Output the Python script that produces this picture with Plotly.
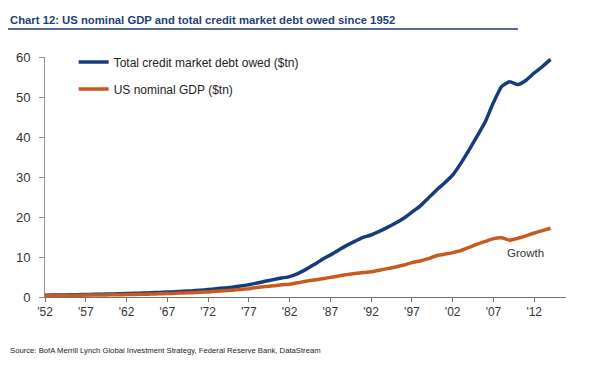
import plotly.graph_objects as go

years = list(range(1952, 2015))
credit = [0.45, 0.48, 0.51, 0.55, 0.59, 0.62, 0.66, 0.71, 0.75, 0.80,
          0.86, 0.92, 0.99, 1.07, 1.15, 1.23, 1.33, 1.43, 1.53, 1.68,
          1.86, 2.06, 2.26, 2.46, 2.74, 3.08, 3.48, 3.92, 4.35, 4.75,
          5.10, 5.85, 6.90, 8.10, 9.40, 10.50, 11.70, 12.90, 13.90, 14.90,
          15.50, 16.40, 17.40, 18.50, 19.70, 21.20, 22.70, 24.70, 26.70, 28.50,
          30.50, 33.40, 36.70, 40.20, 43.80, 48.60, 52.60, 53.80, 53.10, 54.20,
          56.00, 57.60, 59.40]
gdp = [0.36, 0.38, 0.38, 0.42, 0.44, 0.47, 0.48, 0.51, 0.54, 0.56,
       0.60, 0.64, 0.69, 0.74, 0.81, 0.86, 0.94, 1.02, 1.07, 1.17,
       1.28, 1.43, 1.55, 1.69, 1.88, 2.09, 2.36, 2.60, 2.80, 3.05,
       3.20, 3.55, 3.95, 4.25, 4.55, 4.90, 5.25, 5.60, 5.90, 6.10,
       6.30, 6.70, 7.10, 7.50, 8.00, 8.60, 9.00, 9.60, 10.30, 10.70,
       11.10, 11.60, 12.40, 13.20, 13.90, 14.60, 14.80, 14.20, 14.70, 15.30,
       16.00, 16.60, 17.20]
tick_years = [1952, 1957, 1962, 1967, 1972, 1977, 1982, 1987, 1992, 1997, 2002, 2007, 2012]
tick_labels = ["'52", "'57", "'62", "'67", "'72", "'77", "'82", "'87", "'92", "'97", "'02", "'07", "'12"]

FONT = "Liberation Sans, Arial, sans-serif"
BLUE = "#173C7C"
ORANGE = "#C95A1E"

fig = go.Figure()
fig.add_trace(go.Scatter(x=years, y=credit, mode="lines", name="Total credit market debt owed ($tn)",
                         line=dict(color=BLUE, width=3.5, shape="spline", smoothing=0.5), legendgroup="a"))
fig.add_trace(go.Scatter(x=years, y=gdp, mode="lines", name="US nominal GDP ($tn)",
                         line=dict(color=ORANGE, width=3.5, shape="spline", smoothing=0.5), legendgroup="b"))

fig.update_layout(
    width=600, height=370,
    margin=dict(l=45, r=34, t=57, b=73),
    paper_bgcolor="white", plot_bgcolor="white",
    showlegend=True,
    legend=dict(x=0.055, y=1.04, xanchor="left", yanchor="top", bgcolor="rgba(0,0,0,0)",
                font=dict(family=FONT, size=12, color="#222"), tracegroupgap=8,
                traceorder="grouped"),
    xaxis=dict(range=[1952, 2015.9], tickvals=tick_years, ticktext=tick_labels,
               showgrid=False, zeroline=False, showline=True, linecolor="#707070", linewidth=1,
               ticks="outside", ticklen=4, tickcolor="#707070",
               tickfont=dict(family=FONT, size=12, color="#333")),
    yaxis=dict(range=[0, 60], tickvals=[0, 10, 20, 30, 40, 50, 60],
               showgrid=False, zeroline=False, showline=True, linecolor="#909090", linewidth=1,
               ticks="outside", ticklen=5, tickcolor="#909090", ticklabelstandoff=6,
               tickfont=dict(family=FONT, size=13, color="#333")),
    annotations=[
        dict(text="<b>Chart 12: US nominal GDP and total credit market debt owed since 1952</b>",
             xref="paper", yref="paper", x=-37/521, y=(297 - 20) / 240, xanchor="left", yanchor="middle",
             showarrow=False, font=dict(family=FONT, size=11.3, color="#1F3F7A")),
        dict(text="Source: BofA Merrill Lynch Global Investment Strategy, Federal Reserve Bank, DataStream",
             xref="paper", yref="paper", x=-37/521, y=(297 - 350) / 240, xanchor="left", yanchor="middle",
             showarrow=False, font=dict(family=FONT, size=7.7, color="#222")),
        dict(text="Credit", x=2010.5, y=61.25, xref="x", yref="y", showarrow=False,
             font=dict(family=FONT, size=11.5, color="#333")),
        dict(text="Growth", x=2010.9, y=11.1, xref="x", yref="y", showarrow=False,
             font=dict(family=FONT, size=11.5, color="#333")),
    ],
    shapes=[dict(type="line", xref="paper", yref="paper", x0=-37/521, x1=(518 - 45) / 521,
                 y0=(297 - 29) / 240, y1=(297 - 29) / 240, line=dict(color="#56698F", width=2))],
)

fig.write_html("out.html")
